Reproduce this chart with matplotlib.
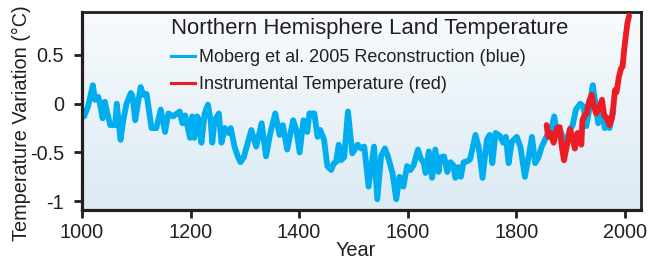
import numpy as np
import matplotlib
matplotlib.use("Agg")
import matplotlib.pyplot as plt
from matplotlib.lines import Line2D
from matplotlib.colors import LinearSegmentedColormap

plt.rcParams['font.family'] = ['Liberation Sans', 'DejaVu Sans']

# Moberg et al. 2005 reconstruction (blue)
blue_years = [1000, 1004, 1011, 1020, 1024, 1030, 1033, 1038, 1042, 1046, 1052, 1061, 1064, 1071,
              1076, 1082, 1090, 1093, 1098, 1108, 1113, 1119, 1128, 1137, 1145, 1153, 1159, 1168,
              1180, 1185, 1190, 1199, 1203, 1207, 1212, 1216, 1220, 1226, 1232, 1237, 1240, 1244,
              1252, 1257, 1263, 1269, 1274, 1281, 1287, 1292, 1298, 1303, 1312, 1321, 1331, 1339,
              1347, 1356, 1364, 1370, 1378, 1389, 1395, 1401, 1408, 1415, 1419, 1428, 1434, 1439,
              1446, 1452, 1459, 1464, 1468, 1473, 1477, 1483, 1490, 1498, 1508, 1514, 1520, 1528,
              1538, 1544, 1551, 1558, 1563, 1572, 1579, 1585, 1592, 1599, 1605, 1611, 1619, 1624,
              1630, 1633, 1639, 1645, 1651, 1657, 1660, 1667, 1673, 1679, 1684, 1688, 1693, 1698,
              1703, 1710, 1715, 1719, 1725, 1731, 1738, 1746, 1751, 1756, 1762, 1770, 1776, 1781,
              1786, 1792, 1801, 1808, 1816, 1823, 1829, 1835, 1841, 1847, 1853, 1859, 1864, 1870,
              1875, 1881, 1887, 1893, 1899, 1904, 1910, 1918, 1924, 1929, 1935, 1941, 1945, 1951,
              1958, 1963, 1967, 1972, 1976, 1979]
blue_values = [-0.12, -0.13, -0.03, 0.19, 0.04, 0.07, 0.0, -0.15, 0.02, -0.08, -0.22, -0.22, 0.0, -0.37,
               -0.17, 0.0, 0.11, 0.08, -0.17, 0.17, 0.09, 0.1, -0.25, -0.25, -0.06, -0.29, -0.1, -0.13,
               -0.08, -0.2, -0.12, -0.35, -0.13, -0.35, -0.13, -0.17, -0.4, -0.1, -0.01, -0.17, -0.4, -0.18,
               -0.1, -0.4, -0.25, -0.3, -0.25, -0.44, -0.54, -0.6, -0.55, -0.45, -0.27, -0.44, -0.2, -0.54,
               -0.3, -0.1, -0.32, -0.22, -0.47, -0.17, -0.27, -0.5, -0.17, -0.29, -0.1, -0.1, -0.34, -0.27,
               -0.37, -0.64, -0.68, -0.61, -0.6, -0.42, -0.58, -0.55, -0.08, -0.51, -0.42, -0.46, -0.44, -0.85,
               -0.44, -0.98, -0.54, -0.46, -0.53, -0.71, -0.98, -0.75, -0.85, -0.64, -0.68, -0.63, -0.47, -0.56,
               -0.61, -0.71, -0.49, -0.76, -0.47, -0.7, -0.55, -0.54, -0.7, -0.6, -0.63, -0.76, -0.65, -0.75,
               -0.6, -0.59, -0.57, -0.47, -0.32, -0.45, -0.76, -0.37, -0.32, -0.61, -0.3, -0.33, -0.4, -0.34,
               -0.61, -0.39, -0.34, -0.45, -0.75, -0.54, -0.34, -0.61, -0.55, -0.44, -0.37, -0.3, -0.28, -0.13,
               -0.3, -0.27, -0.37, -0.37, -0.27, -0.22, -0.06, 0.0, -0.03, -0.23, -0.05, 0.19, 0.04, -0.2,
               -0.03, -0.25, -0.23, -0.25, -0.15, -0.08]

# Instrumental temperature (red)
red_years = [1856, 1859, 1863, 1869, 1875, 1880, 1884, 1888, 1893, 1899, 1903, 1908, 1913, 1918,
             1920, 1922, 1926, 1930, 1934, 1939, 1943, 1947, 1952, 1958, 1962, 1966, 1972, 1976,
             1979, 1982, 1985, 1989, 1993, 1996, 1999, 2002, 2005, 2008]
red_values = [-0.22, -0.34, -0.3, -0.4, -0.25, -0.24, -0.44, -0.58, -0.44, -0.26, -0.33, -0.46, -0.3, -0.38,
              -0.42, -0.17, -0.12, -0.1, 0.02, 0.09, -0.02, -0.1, -0.06, 0.04, -0.12, -0.14, -0.22, -0.15,
              -0.03, 0.14, 0.12, 0.27, 0.36, 0.38, 0.56, 0.7, 0.83, 0.9]

x_ticks = [1000, 1200, 1400, 1600, 1800, 2000]
y_ticks = [-1, -0.5, 0, 0.5]
y_ticklabels = ['-1', '-0.5', '0', '0.5']

title = 'Northern Hemisphere Land Temperature'
blue_label = 'Moberg et al. 2005 Reconstruction (blue)'
red_label = 'Instrumental Temperature (red)'

BLUE = '#00aeef'
RED = '#ed1c24'
INK = '#231f20'

fig = plt.figure(figsize=(6.54, 2.61), dpi=100)
ax = fig.add_axes([0.1254, 0.1954, 0.8548, 0.7586])

# gradient background
grad = np.linspace(0, 1, 256).reshape(-1, 1)
cmap = LinearSegmentedColormap.from_list('bg', ['#dbeaf3', '#f8fbfd'])
ax.imshow(grad, aspect='auto', cmap=cmap, origin='lower',
          extent=[0, 1, 0, 1], transform=ax.transAxes, zorder=0)

ax.plot(blue_years, blue_values, color=BLUE, lw=4.2, solid_joinstyle='round',
        solid_capstyle='round', zorder=2)
ax.plot(red_years, red_values, color=RED, lw=4.2, solid_joinstyle='round',
        solid_capstyle='round', zorder=3)

ax.set_xlim(1000, 2030)
ax.set_ylim(-1.09, 0.94)
ax.set_xticks(x_ticks)
ax.set_yticks(y_ticks)
ax.set_yticklabels(y_ticklabels)
ax.tick_params(direction='out', length=6, width=2, color=INK, labelcolor=INK,
               labelsize=14.3)
ax.tick_params(axis='x', pad=3.5)
ax.tick_params(axis='y', pad=7)
for s in ax.spines.values():
    s.set_color(INK)
    s.set_linewidth(2)
ax.spines['left'].set_linewidth(2.3)
ax.spines['bottom'].set_linewidth(2.3)

ax.set_xlabel('Year', fontsize=14.3, color=INK)
ax.set_ylabel('Temperature Variation (°C)', fontsize=14.3, color=INK)
ax.xaxis.set_label_coords(0.49, -0.157)
ax.yaxis.set_label_coords(-0.091, 0.437)

handles = [Line2D([], [], color=BLUE, lw=2.2), Line2D([], [], color=RED, lw=2.2)]
leg = ax.legend(handles, [blue_label, red_label], title=title, loc='upper left',
                bbox_to_anchor=(0.137, 1.035), frameon=False, fontsize=13,
                title_fontsize=15.9, alignment='left', handlelength=1.3,
                handletextpad=0.23, labelspacing=0.56, borderpad=0.2)
for t in leg.get_texts():
    t.set_color(INK)
leg.get_title().set_color(INK)

fig.savefig('out.png', dpi=100)
